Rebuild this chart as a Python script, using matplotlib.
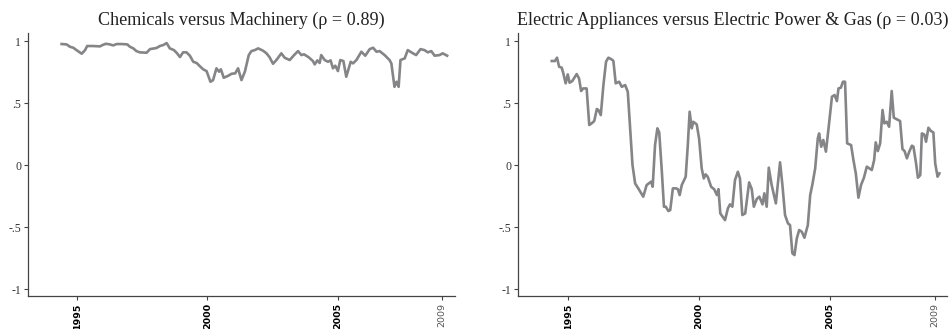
import matplotlib
matplotlib.use("Agg")
import matplotlib.pyplot as plt

# rolling correlations
chem_dates = [1994.41, 1994.60, 1994.73, 1994.86, 1994.96, 1995.18, 1995.31, 1995.39, 1995.62,
              1995.88, 1995.98, 1996.11, 1996.26, 1996.39, 1996.52, 1996.71, 1996.93, 1997.03,
              1997.16, 1997.28, 1997.41, 1997.67, 1997.80, 1998.05, 1998.18, 1998.31, 1998.44,
              1998.56, 1998.72, 1998.84, 1998.95, 1999.07, 1999.20, 1999.33, 1999.46, 1999.59,
              1999.71, 1999.84, 1999.97, 2000.12, 2000.22, 2000.35, 2000.45, 2000.52, 2000.63,
              2000.80, 2000.93, 2001.07, 2001.18, 2001.31, 2001.44, 2001.59, 2001.69, 2001.82,
              2001.95, 2002.14, 2002.27, 2002.39, 2002.52, 2002.65, 2002.84, 2002.97, 2003.16,
              2003.33, 2003.48, 2003.61, 2003.71, 2003.89, 2004.05, 2004.12, 2004.22, 2004.31,
              2004.37, 2004.50, 2004.63, 2004.73, 2004.82, 2004.91, 2005.01, 2005.10, 2005.22,
              2005.33, 2005.50, 2005.59, 2005.72, 2005.91, 2006.06, 2006.23, 2006.36, 2006.49,
              2006.61, 2006.80, 2006.99, 2007.06, 2007.18, 2007.26, 2007.34, 2007.41, 2007.57,
              2007.69, 2007.89, 2008.01, 2008.18, 2008.33, 2008.46, 2008.59, 2008.72, 2008.91,
              2009.03, 2009.20]
chem_corr = [0.976, 0.973, 0.954, 0.946, 0.930, 0.898, 0.927, 0.960, 0.960,
             0.957, 0.968, 0.978, 0.973, 0.965, 0.976, 0.976, 0.973, 0.954,
             0.941, 0.919, 0.909, 0.906, 0.935, 0.944, 0.960, 0.968, 0.984,
             0.941, 0.927, 0.901, 0.871, 0.909, 0.909, 0.882, 0.833, 0.823,
             0.798, 0.772, 0.758, 0.672, 0.685, 0.780, 0.753, 0.772, 0.704,
             0.720, 0.736, 0.740, 0.780, 0.685, 0.753, 0.887, 0.919, 0.927,
             0.941, 0.922, 0.901, 0.869, 0.817, 0.847, 0.901, 0.865, 0.847,
             0.887, 0.919, 0.887, 0.893, 0.869, 0.839, 0.812, 0.844, 0.823,
             0.887, 0.847, 0.833, 0.844, 0.780, 0.801, 0.758, 0.847, 0.839,
             0.712, 0.833, 0.820, 0.847, 0.914, 0.882, 0.935, 0.946, 0.914,
             0.919, 0.887, 0.847, 0.820, 0.631, 0.672, 0.631, 0.847, 0.860,
             0.927, 0.901, 0.887, 0.935, 0.927, 0.909, 0.919, 0.882, 0.887,
             0.901, 0.882]

elec_dates = [1994.38, 1994.50, 1994.58, 1994.66, 1994.76, 1994.82, 1994.91, 1994.99, 1995.06,
              1995.16, 1995.33, 1995.42, 1995.50, 1995.58, 1995.71, 1995.81, 1995.90, 1996.00,
              1996.10, 1996.16, 1996.25, 1996.35, 1996.45, 1996.54, 1996.64, 1996.73, 1996.82,
              1996.95, 1997.05, 1997.18, 1997.28, 1997.37, 1997.46, 1997.56, 1997.68, 1997.87,
              1998.00, 1998.17, 1998.23, 1998.32, 1998.41, 1998.48, 1998.58, 1998.66, 1998.73,
              1998.83, 1998.90, 1999.00, 1999.12, 1999.19, 1999.26, 1999.34, 1999.49, 1999.57,
              1999.64, 1999.72, 1999.78, 1999.91, 2000.00, 2000.10, 2000.18, 2000.25, 2000.33,
              2000.46, 2000.58, 2000.68, 2000.74, 2000.81, 2000.99, 2001.10, 2001.18, 2001.27,
              2001.37, 2001.48, 2001.56, 2001.65, 2001.76, 2001.91, 2002.01, 2002.09, 2002.20,
              2002.30, 2002.42, 2002.49, 2002.58, 2002.66, 2002.77, 2002.93, 2003.09, 2003.18,
              2003.28, 2003.39, 2003.47, 2003.56, 2003.64, 2003.73, 2003.82, 2003.92, 2004.02,
              2004.15, 2004.24, 2004.32, 2004.43, 2004.53, 2004.58, 2004.66, 2004.74, 2004.84,
              2004.94, 2005.07, 2005.17, 2005.26, 2005.32, 2005.41, 2005.49, 2005.57, 2005.65,
              2005.80, 2005.89, 2005.98, 2006.08, 2006.18, 2006.29, 2006.40, 2006.50, 2006.59,
              2006.68, 2006.74, 2006.82, 2006.91, 2007.00, 2007.07, 2007.16, 2007.25, 2007.35,
              2007.43, 2007.67, 2007.76, 2007.84, 2007.93, 2008.02, 2008.12, 2008.18, 2008.28,
              2008.35, 2008.44, 2008.50, 2008.59, 2008.66, 2008.75, 2008.85, 2008.94, 2009.01,
              2009.10, 2009.17]
elec_corr = [0.839, 0.839, 0.866, 0.793, 0.785, 0.740, 0.659, 0.731, 0.664,
             0.677, 0.734, 0.699, 0.597, 0.618, 0.618, 0.323, 0.336, 0.355,
             0.452, 0.444, 0.403, 0.645, 0.833, 0.866, 0.855, 0.841, 0.659,
             0.672, 0.631, 0.645, 0.591, 0.296, 0.000, -0.148, -0.188, -0.255,
             -0.161, -0.134, -0.175, 0.161, 0.296, 0.263, -0.054, -0.336, -0.336,
             -0.371, -0.363, -0.188, -0.188, -0.194, -0.242, -0.161, -0.094, 0.161,
             0.430, 0.296, 0.349, 0.328, 0.215, -0.027, -0.108, -0.075, -0.094,
             -0.175, -0.196, -0.242, -0.194, -0.390, -0.444, -0.349, -0.317, -0.336,
             -0.121, -0.054, -0.108, -0.403, -0.390, -0.140, -0.194, -0.336, -0.274,
             -0.255, -0.317, -0.228, -0.336, -0.021, -0.161, -0.309, 0.022, -0.161,
             -0.403, -0.470, -0.484, -0.712, -0.726, -0.591, -0.524, -0.538, -0.586,
             -0.484, -0.242, -0.161, -0.027, 0.215, 0.255, 0.148, 0.202, 0.108,
             0.296, 0.551, 0.565, 0.516, 0.618, 0.624, 0.672, 0.672, 0.175,
             0.161, 0.040, -0.067, -0.263, -0.161, -0.102, -0.013, -0.027, -0.040,
             0.040, 0.183, 0.113, 0.175, 0.444, 0.336, 0.349, 0.309, 0.597,
             0.382, 0.355, 0.129, 0.113, 0.054, 0.108, 0.156, 0.148, 0.013,
             -0.102, -0.081, 0.255, 0.247, 0.188, 0.301, 0.274, 0.263, 0.013,
             -0.094, -0.067]

titles = ["Chemicals versus Machinery (\u03c1 = 0.89)",
          "Electric Appliances versus Electric Power & Gas (\u03c1 = 0.03)"]
year_ticks = [1995, 2000, 2005, 2009]
y_ticks = [-1, -0.5, 0, 0.5, 1]
y_labels = ["-1", "-.5", "0", ".5", "1"]

fig = plt.figure(figsize=(9.49, 3.29), dpi=100)
ax1 = fig.add_axes([0.0295, 0.1003, 0.4499, 0.7994])
ax2 = fig.add_axes([0.5458, 0.1003, 0.4521, 0.7994])

panels = [(ax1, chem_dates, chem_corr, (1993.12, 2009.5)),
          (ax2, elec_dates, elec_corr, (1993.09, 2009.46))]

for i, (ax, x, y, xl) in enumerate(panels):
    ax.plot(x, y, color="#858587", linewidth=1.9, solid_joinstyle="round")
    ax.set_xlim(xl)
    ax.set_ylim(-1.056, 1.065)
    ax.spines["top"].set_visible(False)
    ax.spines["right"].set_visible(False)
    for s in ["left", "bottom"]:
        ax.spines[s].set_color("#444444")
        ax.spines[s].set_linewidth(0.9)
    ax.set_yticks(y_ticks)
    ax.set_yticklabels(y_labels, family="Liberation Serif", fontsize=8.5, color="#333333")
    ax.set_xticks(year_ticks)
    ax.set_xticklabels([str(t) for t in year_ticks], rotation=90, family="DejaVu Sans",
                       fontsize=6.8, fontweight="bold")
    ax.get_xticklabels()[-1].set_fontweight("normal")
    ax.get_xticklabels()[-1].set_color("#555555")
    ax.tick_params(axis="both", length=3, width=0.8, color="#444444", pad=2)
    ax.set_title(titles[i], family="Liberation Serif", fontsize=13.1, color="#222222", pad=6)

plt.savefig("out.png", dpi=100)
